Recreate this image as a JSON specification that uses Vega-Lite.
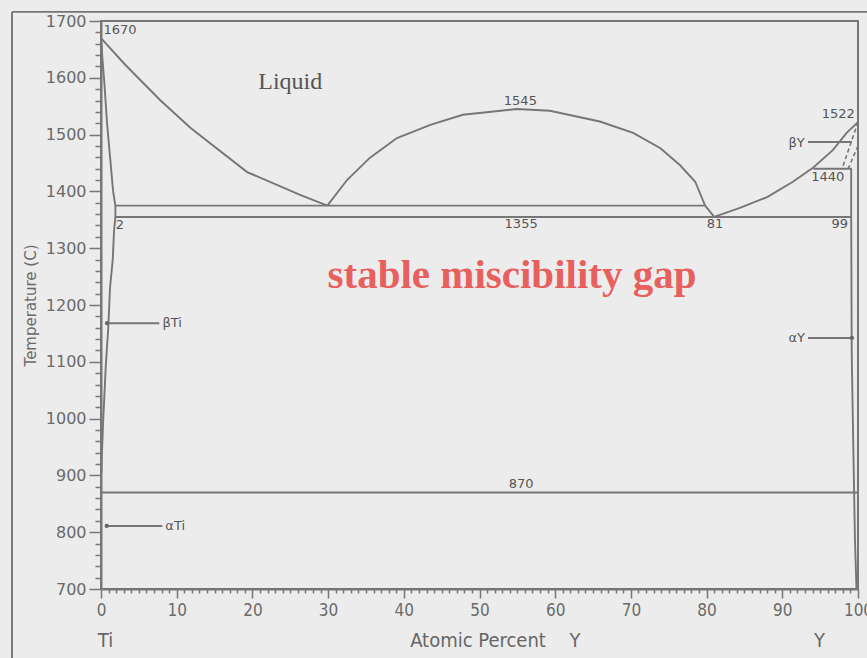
{
  "$schema": "https://vega.github.io/schema/vega-lite/v6.json",
  "width": 757,
  "height": 568,
  "autosize": {"type": "none"},
  "padding": {"left": 101, "top": 21, "right": 9, "bottom": 69},
  "background": "#ECECEC",
  "config": {"view": {"stroke": "#777777", "strokeWidth": 2}},
  "datasets": {
    "curves": [
      {"id": "liqL", "o": 1, "x": 0, "T": 1670},
      {"id": "liqL", "o": 2, "x": 3.2, "T": 1623},
      {"id": "liqL", "o": 3, "x": 7.8, "T": 1561},
      {"id": "liqL", "o": 4, "x": 11.8, "T": 1512},
      {"id": "liqL", "o": 5, "x": 19.3, "T": 1434},
      {"id": "liqL", "o": 6, "x": 26.3, "T": 1394},
      {"id": "liqL", "o": 7, "x": 29.9, "T": 1375},
      {"id": "dome", "o": 1, "x": 29.9, "T": 1375},
      {"id": "dome", "o": 2, "x": 32.5, "T": 1420},
      {"id": "dome", "o": 3, "x": 35.5, "T": 1459},
      {"id": "dome", "o": 4, "x": 39.1, "T": 1494},
      {"id": "dome", "o": 5, "x": 43.5, "T": 1517},
      {"id": "dome", "o": 6, "x": 47.8, "T": 1535},
      {"id": "dome", "o": 7, "x": 54.9, "T": 1545},
      {"id": "dome", "o": 8, "x": 59.3, "T": 1542},
      {"id": "dome", "o": 9, "x": 65.9, "T": 1523},
      {"id": "dome", "o": 10, "x": 70.3, "T": 1503},
      {"id": "dome", "o": 11, "x": 73.9, "T": 1476},
      {"id": "dome", "o": 12, "x": 76.5, "T": 1446},
      {"id": "dome", "o": 13, "x": 78.5, "T": 1417},
      {"id": "dome", "o": 14, "x": 79.8, "T": 1375},
      {"id": "dome", "o": 15, "x": 81, "T": 1355},
      {"id": "liqR", "o": 1, "x": 81, "T": 1355},
      {"id": "liqR", "o": 2, "x": 84.4, "T": 1371},
      {"id": "liqR", "o": 3, "x": 88, "T": 1390},
      {"id": "liqR", "o": 4, "x": 91.4, "T": 1417},
      {"id": "liqR", "o": 5, "x": 94.1, "T": 1442},
      {"id": "liqR", "o": 6, "x": 96.7, "T": 1473},
      {"id": "liqR", "o": 7, "x": 98.5, "T": 1503},
      {"id": "liqR", "o": 8, "x": 100, "T": 1522},
      {"id": "solTi", "o": 1, "x": 0, "T": 1670},
      {"id": "solTi", "o": 2, "x": 0.15, "T": 1640},
      {"id": "solTi", "o": 3, "x": 0.45, "T": 1590},
      {"id": "solTi", "o": 4, "x": 0.8, "T": 1520},
      {"id": "solTi", "o": 5, "x": 1.2, "T": 1460},
      {"id": "solTi", "o": 6, "x": 1.6, "T": 1400},
      {"id": "solTi", "o": 7, "x": 1.9, "T": 1375},
      {"id": "solTi", "o": 8, "x": 1.9, "T": 1355},
      {"id": "nearTi", "o": 1, "x": 0.08, "T": 1655},
      {"id": "nearTi", "o": 2, "x": 0.08, "T": 1610},
      {"id": "solvTi", "o": 1, "x": 1.9, "T": 1355},
      {"id": "solvTi", "o": 2, "x": 1.72, "T": 1330},
      {"id": "solvTi", "o": 3, "x": 1.55, "T": 1280},
      {"id": "solvTi", "o": 4, "x": 1.19, "T": 1230},
      {"id": "solvTi", "o": 5, "x": 0.96, "T": 1160},
      {"id": "solvTi", "o": 6, "x": 0.62, "T": 1090},
      {"id": "solvTi", "o": 7, "x": 0.3, "T": 1000},
      {"id": "solvTi", "o": 8, "x": 0.1, "T": 930},
      {"id": "solvTi", "o": 9, "x": 0.05, "T": 905},
      {"id": "solvY", "o": 1, "x": 99.1, "T": 1440},
      {"id": "solvY", "o": 2, "x": 99.1, "T": 1355},
      {"id": "solvY", "o": 3, "x": 99.17, "T": 1115},
      {"id": "solvY", "o": 4, "x": 99.38, "T": 950},
      {"id": "solvY", "o": 5, "x": 99.6, "T": 786},
      {"id": "solvY", "o": 6, "x": 99.8, "T": 700}
    ],
    "dashed": [
      {"id": "d1", "o": 1, "x": 100, "T": 1522},
      {"id": "d1", "o": 2, "x": 97.9, "T": 1440},
      {"id": "d2", "o": 1, "x": 100, "T": 1480},
      {"id": "d2", "o": 2, "x": 98.7, "T": 1440}
    ],
    "rules": [
      {"x": -11.76, "x2": -11.76, "T": 1716, "T2": 560},
      {"x": -11.76, "x2": 101.5, "T": 1716, "T2": 1716},
      {"x": 1.9, "x2": 79.8, "T": 1375, "T2": 1375},
      {"x": 1.9, "x2": 99.1, "T": 1355, "T2": 1355},
      {"x": 94.1, "x2": 99.2, "T": 1440, "T2": 1440},
      {"x": 0, "x2": 100, "T": 870, "T2": 870},
      {"x": 0.8, "x2": 7.7, "T": 1168, "T2": 1168},
      {"x": 0.75, "x2": 8.1, "T": 811, "T2": 811},
      {"x": 93.4, "x2": 99.2, "T": 1142, "T2": 1142},
      {"x": 93.4, "x2": 99.2, "T": 1487, "T2": 1487}
    ],
    "dots": [
      {"x": 0.8, "T": 1168},
      {"x": 0.75, "T": 811},
      {"x": 99.2, "T": 1142}
    ],
    "labels": [
      {"label": "1670", "x": 2.5, "T": 1684},
      {"label": "1545", "x": 55.4, "T": 1559},
      {"label": "1522", "x": 97.4, "T": 1536},
      {"label": "1440", "x": 96.0, "T": 1425},
      {"label": "2", "x": 2.5, "T": 1341},
      {"label": "1355", "x": 55.5, "T": 1343},
      {"label": "81", "x": 81.1, "T": 1343},
      {"label": "99", "x": 97.6, "T": 1343},
      {"label": "870", "x": 55.5, "T": 885},
      {"label": "βTi", "x": 9.4, "T": 1168},
      {"label": "αTi", "x": 9.8, "T": 811},
      {"label": "αY", "x": 91.9, "T": 1142},
      {"label": "βY", "x": 91.9, "T": 1485}
    ],
    "bottom": [
      {"label": "Ti", "x": 0.6, "T": 608},
      {"label": "Atomic Percent", "x": 49.8, "T": 608},
      {"label": "Y", "x": 62.6, "T": 608},
      {"label": "Y", "x": 94.9, "T": 608}
    ],
    "liquid": [{"label": "Liquid", "x": 25, "T": 1593}],
    "gap": [{"label": "stable miscibility gap", "x": 54.3, "T": 1251}]
  },
  "encoding": {
    "x": {
      "field": "x",
      "type": "quantitative",
      "scale": {"domain": [0, 100], "nice": false, "zero": false},
      "axis": {
        "values": [0,1,2,3,4,5,6,7,8,9,10,11,12,13,14,15,16,17,18,19,20,21,22,23,24,25,26,27,28,29,30,31,32,33,34,35,36,37,38,39,40,41,42,43,44,45,46,47,48,49,50,51,52,53,54,55,56,57,58,59,60,61,62,63,64,65,66,67,68,69,70,71,72,73,74,75,76,77,78,79,80,81,82,83,84,85,86,87,88,89,90,91,92,93,94,95,96,97,98,99,100],
        "format": "d",
        "labelExpr": "datum.value % 10 === 0 ? datum.label : ''",
        "tickSize": {"condition": {"test": "datum.value % 10 === 0", "value": 9}, "value": 4},
        "title": null,
        "grid": false,
        "domainColor": "#777777",
        "domainWidth": 2,
        "tickColor": "#777777",
        "tickWidth": 1.5,
        "labelFont": "DejaVu Sans Condensed, Liberation Sans Narrow, DejaVu Sans",
        "labelFontSize": 17,
        "labelColor": "#6a6a6a",
        "labelPadding": 4,
        "labelFlush": false,
        "labelOverlap": false
      }
    },
    "y": {
      "field": "T",
      "type": "quantitative",
      "scale": {"domain": [700, 1700], "nice": false, "zero": false},
      "axis": {
        "values": [700,720,740,760,780,800,820,840,860,880,900,920,940,960,980,1000,1020,1040,1060,1080,1100,1120,1140,1160,1180,1200,1220,1240,1260,1280,1300,1320,1340,1360,1380,1400,1420,1440,1460,1480,1500,1520,1540,1560,1580,1600,1620,1640,1660,1680,1700],
        "format": "d",
        "labelExpr": "datum.value % 100 === 0 ? datum.label : ''",
        "tickSize": {"condition": {"test": "datum.value % 100 === 0", "value": 12}, "value": 6},
        "title": "Temperature (C)",
        "grid": false,
        "domainColor": "#777777",
        "domainWidth": 2,
        "tickColor": "#777777",
        "tickWidth": 1.5,
        "labelFont": "DejaVu Sans",
        "labelFontSize": 16,
        "labelColor": "#6a6a6a",
        "labelPadding": 3,
        "labelFlush": false,
        "labelOverlap": false,
        "titleFont": "DejaVu Sans",
        "titleFontSize": 15,
        "titleFontWeight": "normal",
        "titleColor": "#6a6a6a",
        "titlePadding": 7
      }
    }
  },
  "layer": [
    {
      "data": {"name": "curves"},
      "mark": {"type": "line", "color": "#767676", "strokeWidth": 1.9, "clip": false},
      "encoding": {
        "detail": {"field": "id", "type": "nominal"},
        "order": {"field": "o", "type": "quantitative"}
      }
    },
    {
      "data": {"name": "dashed"},
      "mark": {"type": "line", "color": "#767676", "strokeWidth": 1.6, "strokeDash": [4, 3]},
      "encoding": {
        "detail": {"field": "id", "type": "nominal"},
        "order": {"field": "o", "type": "quantitative"}
      }
    },
    {
      "data": {"name": "rules"},
      "mark": {"type": "rule", "color": "#767676", "strokeWidth": 1.9},
      "encoding": {
        "x2": {"field": "x2"},
        "y2": {"field": "T2"}
      }
    },
    {
      "data": {"name": "dots"},
      "mark": {"type": "point", "filled": true, "color": "#666666", "size": 18, "opacity": 1}
    },
    {
      "data": {"name": "labels"},
      "mark": {"type": "text", "font": "DejaVu Sans", "fontSize": 13, "color": "#555555", "align": "center", "baseline": "middle"},
      "encoding": {"text": {"field": "label"}}
    },
    {
      "data": {"name": "bottom"},
      "mark": {"type": "text", "font": "DejaVu Sans Condensed, Liberation Sans Narrow, DejaVu Sans", "fontSize": 20, "color": "#666666", "align": "center", "baseline": "middle"},
      "encoding": {"text": {"field": "label"}}
    },
    {
      "data": {"name": "liquid"},
      "mark": {"type": "text", "font": "Liberation Serif", "fontSize": 24, "color": "#555555", "align": "center", "baseline": "middle"},
      "encoding": {"text": {"field": "label"}}
    },
    {
      "data": {"name": "gap"},
      "mark": {"type": "text", "font": "Liberation Serif", "fontSize": 41, "fontWeight": "bold", "color": "#E8605E", "align": "center", "baseline": "middle"},
      "encoding": {"text": {"field": "label"}}
    }
  ]
}
